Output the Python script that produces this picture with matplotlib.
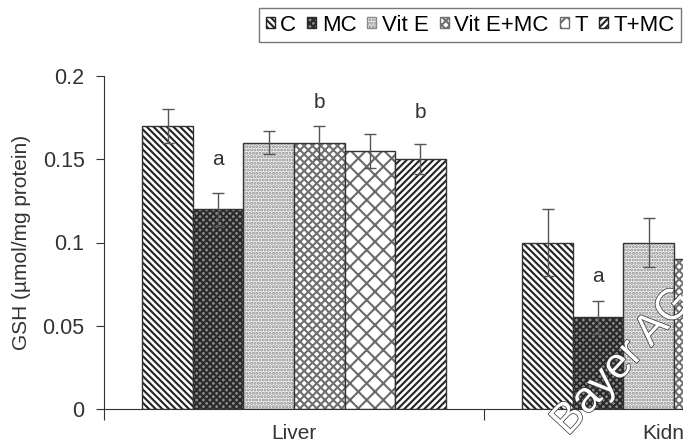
import numpy as np
import matplotlib.pyplot as plt
import matplotlib.patheffects as pe
from matplotlib.patches import Patch

plt.rcParams['font.family'] = ['Liberation Sans', 'DejaVu Sans']
plt.rcParams['hatch.linewidth'] = 1.5

tissues = ["Liver", "Kidney"]
groups = ["C", "MC", "Vit E", "Vit E+MC", "T", "T+MC"]

# GSH values (umol/mg protein), rows = group
gsh = np.array([
    [0.170, 0.100],   # C
    [0.120, 0.055],   # MC
    [0.160, 0.100],   # Vit E
    [0.160, 0.090],   # Vit E+MC
    [0.155, 0.090],   # T  (kidney off the picture, guess)
    [0.150, 0.085],   # T+MC (kidney off the picture, guess)
])
err = np.array([
    [0.010, 0.020],
    [0.010, 0.010],
    [0.007, 0.015],
    [0.010, 0.010],
    [0.010, 0.010],
    [0.009, 0.010],
])
# significance letters: (tissue index, group index, letter, height of baseline)
letters = [(0, 1, "a", 0.1465), (0, 3, "b", 0.1808), (0, 5, "b", 0.1748),
           (1, 1, "a", 0.0763)]

# fill, hatch colour, hatch pattern for each group
styles = [
    ("white",   "#222222", "\\\\\\\\\\"),
    ("#8a8a8a", "#2a2a2a", "xxxxx"),
    ("#f4f4f4", "#8a8a8a", "....."),
    ("white",   "#707070", "xxxx"),
    ("white",   "#6a6a6a", "xx"),
    ("white",   "#222222", "/////"),
]

fig = plt.figure(figsize=(6.83, 4.45), dpi=100)
ax = fig.add_axes([104/683, 36/445, 760/683, 333/445])

x = np.arange(len(tissues))
w = 0.133
handles = []
for i, (g, (fc, hc, h)) in enumerate(zip(groups, styles)):
    pos = x + (i - 2.5) * w
    ax.bar(pos, gsh[i], w, color=fc, edgecolor=hc, hatch=h, linewidth=0)
    ax.bar(pos, gsh[i], w, fill=False, edgecolor="#333333", linewidth=1)
    ax.errorbar(pos, gsh[i], yerr=err[i], fmt="none", ecolor="#555555",
                elinewidth=1, capsize=4.5, capthick=1)
    handles.append(Patch(facecolor=fc, edgecolor=hc, hatch=h, label=g))

for t, gi, s, yy in letters:
    ax.text(x[t] + (gi - 2.5) * w, yy, s, ha="center", va="baseline",
            fontsize=15, color="#333333")

ax.set_xlim(-0.5, 1.5)
ax.set_ylim(0, 0.2)
ax.set_yticks([0, 0.05, 0.1, 0.15, 0.2])
ax.set_yticklabels(["0", "0.05", "0.1", "0.15", "0.2"])
ax.set_xticks([-0.5, 0.5, 1.5])
ax.set_xticklabels([])
ax.set_xticks(x, minor=True)
ax.set_xticklabels(tissues, minor=True)
ax.tick_params(axis="x", which="minor", length=0, pad=11, labelsize=15, colors="#333333")
ax.tick_params(axis="x", which="major", length=8, color="#333333")
ax.tick_params(axis="y", length=6, pad=8, labelsize=15.5, colors="#333333")
for s in ["top", "right"]:
    ax.spines[s].set_visible(False)
for s in ["left", "bottom"]:
    ax.spines[s].set_color("#333333")
ax.set_ylabel("GSH (µmol/mg protein)", fontsize=15, color="#333333", labelpad=8)

fig.legend(handles=handles, loc="upper left", bbox_to_anchor=(259/683, 1 - 8/445),
           ncol=6, fontsize=16, frameon=True, fancybox=False, edgecolor="#555555",
           handlelength=0.4, handleheight=0.4, handletextpad=0.25, columnspacing=0.5,
           borderpad=0.3, borderaxespad=0)

fig.text(545/683, 2/445, "Bayer AG", rotation=47, fontsize=31, color="white",
         ha="left", va="bottom",
         path_effects=[pe.withStroke(linewidth=1.0, foreground="#333333")])

fig.savefig("out.png", dpi=100)
